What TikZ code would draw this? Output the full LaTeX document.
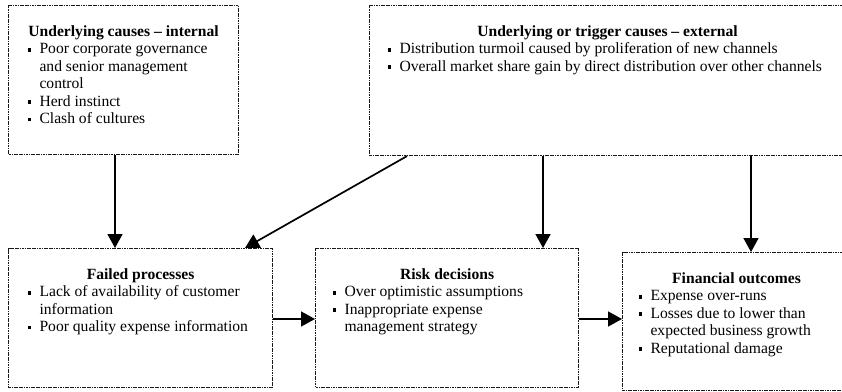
\documentclass[tikz,border=0pt]{standalone}
\usepackage{fontspec}
\setmainfont{Liberation Serif}
\usetikzlibrary{arrows.meta,calc}

% small square bullet and a hanging-indent list entry
\newcommand\sqbullet{\raisebox{2.3pt}{\rule{3.6pt}{3.6pt}}}
\newcommand\entry[1]{\par\hangindent=12pt\hangafter=1\noindent\makebox[12pt][l]{\sqbullet}#1}
% panel body: height, width, title, entries
\newcommand\panelbody[4]{%
  \parbox[c][#1][t]{#2}{\fontsize{15.6}{17.4}\selectfont
    {\centering\rule{0pt}{31pt}\textbf{#3}\par}%
    \raggedright #4\par}}

\tikzset{
  panel/.style={draw=black!90, line width=1.1pt, dash pattern=on 1.2pt off 0.5pt,
                inner ysep=0pt, anchor=north west},
  arr/.style={-{Triangle[width=15pt,length=14pt]}, line width=1.7pt},
  harr/.style={-{Triangle[width=15pt,length=14pt]}, line width=1.5pt}
}

\begin{document}
\begin{tikzpicture}[x=1pt,y=-1pt]
\useasboundingbox (0,0) rectangle (842,391);
\clip (0,0) rectangle (842,391);

\node[panel, inner xsep=19pt] (int) at (8,5)
  {\panelbody{149pt}{192pt}{Underlying causes -- internal}{%
    \entry{Poor corporate governance and senior management control}
    \entry{Herd instinct}
    \entry{Clash of cultures}}};

\node[panel, inner xsep=18pt] (ext) at (369,5)
  {\panelbody{150pt}{440pt}{Underlying or trigger causes -- external}{%
    \entry{Distribution turmoil caused by proliferation of new channels}
    \entry{Overall market share gain by direct distribution over other channels}}};

\node[panel, inner xsep=19pt] (fail) at (8,248)
  {\panelbody{139pt}{226pt}{Failed processes}{%
    \entry{Lack of availability of customer information}
    \entry{Poor quality expense information}}};

\node[panel, inner xsep=17pt] (risk) at (315,248)
  {\panelbody{139pt}{229pt}{Risk decisions}{%
    \entry{Over optimistic assumptions}
    \entry{Inappropriate expense management strategy}}};

\node[panel, inner xsep=16pt] (fin) at (622,252)
  {\panelbody{138pt}{196pt}{Financial outcomes}{%
    \entry{Expense over-runs}
    \entry{Losses due to lower than expected business growth}
    \entry{Reputational damage}}};

% connector end points along the panel edges
\coordinate (a1) at ($(int.south west)+(107,0)$);
\coordinate (a2) at ($(ext.south west)+(38,0)$);
\coordinate (b2) at ($(fail.north west)+(237,0)$);
\coordinate (a3) at ($(ext.south west)+(174,0)$);
\coordinate (a4) at ($(ext.south west)+(382,0)$);
\coordinate (h1) at (fail.east |- 0,319);
\coordinate (h2) at (risk.east |- 0,319);

\draw[arr] (a1) -- (a1 |- fail.north);
\draw[arr] (a2) -- (b2);
\draw[arr] (a3) -- (a3 |- risk.north);
\draw[arr] (a4) -- (a4 |- fin.north);
\draw[harr] (h1) -- (h1 -| risk.west);
\draw[harr] (h2) -- (h2 -| fin.west);
\end{tikzpicture}
\end{document}
